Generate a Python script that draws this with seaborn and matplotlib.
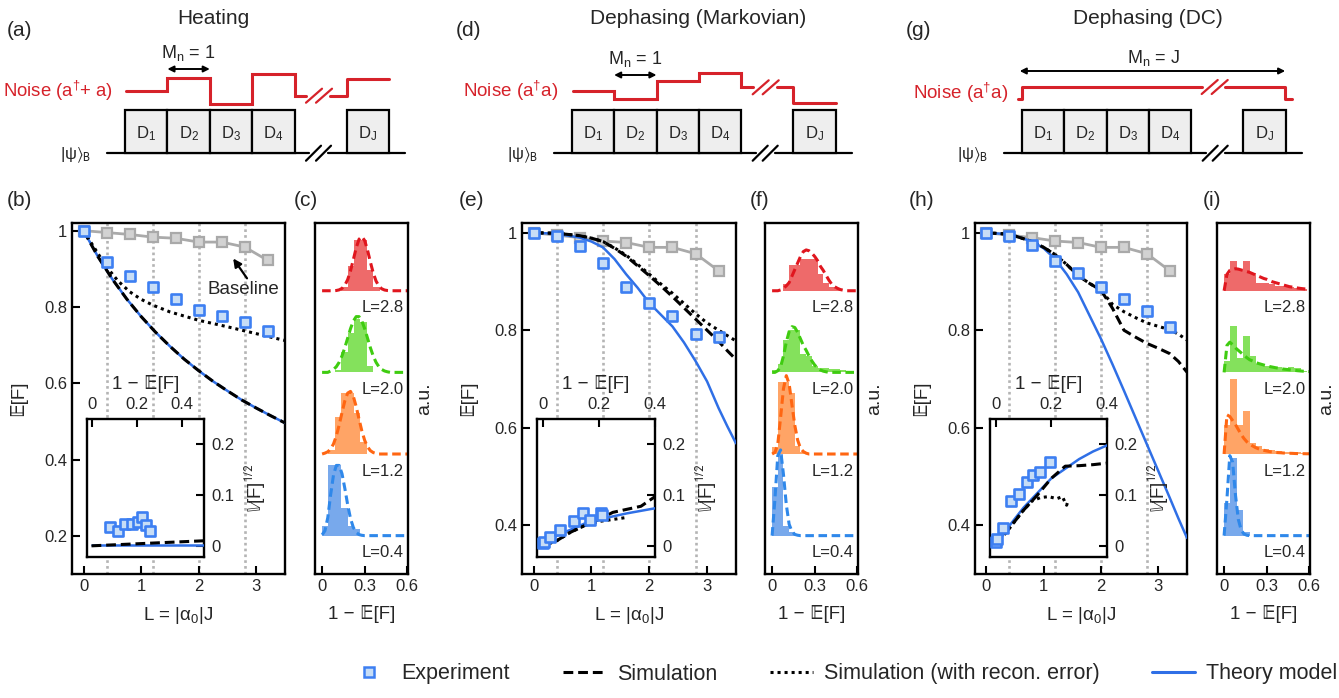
import matplotlib
matplotlib.use("Agg")
import matplotlib.pyplot as plt
import seaborn as sns
from matplotlib.lines import Line2D
from matplotlib.patches import Rectangle

# ------------------------------------------------------------------ data
L_exp = [0.0, 0.4, 0.8, 1.2, 1.6, 2.0, 2.4, 2.8, 3.2]
L_marks = [0.4, 1.2, 2.0, 2.8]
baseline_F = [1.0, 0.995, 0.99, 0.983, 0.98, 0.97, 0.97, 0.957, 0.922]

# (b) heating
heat_exp = [1.0, 0.918, 0.882, 0.852, 0.822, 0.792, 0.776, 0.760, 0.738]
heat_L = [0, 0.25, 0.5, 0.75, 1.0, 1.25, 1.5, 1.75, 2.0, 2.25, 2.5, 2.75, 3.0, 3.25, 3.5]
heat_sim = [1.0, 0.932, 0.873, 0.821, 0.775, 0.734, 0.697, 0.663, 0.633, 0.605, 0.580, 0.556, 0.535, 0.515, 0.496]
heat_theory = [1.0, 0.932, 0.873, 0.821, 0.775, 0.734, 0.697, 0.663, 0.633, 0.605, 0.580, 0.556, 0.535, 0.515, 0.496]
heat_rec_L = [0, 0.2, 0.4, 0.6, 0.8, 1.0, 1.2, 1.5, 2.0, 2.5, 3.0, 3.5]
heat_rec = [1.0, 0.952, 0.905, 0.868, 0.84, 0.82, 0.805, 0.787, 0.765, 0.748, 0.73, 0.712]
heat_in_exp_x = [0.082, 0.118, 0.148, 0.178, 0.208, 0.224, 0.240, 0.262]
heat_in_exp_y = [0.0375, 0.030, 0.043, 0.043, 0.047, 0.057, 0.041, 0.030]
heat_in_x = [0.0, 0.1, 0.2, 0.3, 0.4, 0.5]
heat_in_sim = [0.0, 0.002, 0.004, 0.006, 0.008, 0.010]
heat_in_theory = [0.001, 0.001, 0.001, 0.001, 0.001, 0.001]

# (e) dephasing Markovian
mark_exp = [1.0, 0.994, 0.973, 0.937, 0.889, 0.856, 0.830, 0.792, 0.787]
line_L = [0, 0.4, 0.8, 1.0, 1.2, 1.4, 1.6, 1.8, 2.0, 2.2, 2.4, 2.6, 2.8, 3.0, 3.2, 3.35, 3.5]
mark_theory = [1.0, 0.998, 0.99, 0.982, 0.97, 0.946, 0.915, 0.887, 0.856, 0.832, 0.808, 0.775, 0.737, 0.695, 0.64, 0.603, 0.568]
mark_sim = [1.0, 0.999, 0.994, 0.989, 0.982, 0.968, 0.952, 0.932, 0.912, 0.891, 0.869, 0.846, 0.823, 0.8, 0.777, 0.758, 0.74]
mark_rec = [1.0, 0.999, 0.994, 0.989, 0.982, 0.969, 0.954, 0.935, 0.915, 0.895, 0.876, 0.855, 0.834, 0.815, 0.8, 0.789, 0.778]
mark_in_exp_x = [0.0, 0.006, 0.027, 0.063, 0.111, 0.144, 0.170, 0.208, 0.213]
mark_in_exp_y = [0.006, 0.008, 0.018, 0.031, 0.049, 0.064, 0.051, 0.064, 0.061]
in_x = [0.0, 0.05, 0.1, 0.15, 0.2, 0.25, 0.3, 0.35, 0.4]
mark_in_theory = [0.005, 0.02, 0.032, 0.044, 0.052, 0.058, 0.064, 0.069, 0.074]
mark_in_sim = [0.0, 0.01, 0.027, 0.04, 0.052, 0.066, 0.072, 0.078, 0.097]
mark_in_rec_x = [0.0, 0.05, 0.1, 0.15, 0.2, 0.25, 0.3]
mark_in_rec = [0.0, 0.01, 0.027, 0.04, 0.048, 0.052, 0.056]

# (h) dephasing DC
dc_exp = [1.0, 0.994, 0.975, 0.943, 0.917, 0.888, 0.864, 0.840, 0.806]
dc_theory = [1.0, 0.997, 0.982, 0.968, 0.946, 0.915, 0.878, 0.83, 0.782, 0.73, 0.676, 0.621, 0.566, 0.511, 0.456, 0.414, 0.374]
dc_sim = [1.0, 0.997, 0.982, 0.97, 0.955, 0.935, 0.912, 0.896, 0.882, 0.845, 0.8, 0.786, 0.773, 0.763, 0.752, 0.736, 0.714]
dc_rec = [1.0, 0.997, 0.982, 0.97, 0.955, 0.935, 0.912, 0.896, 0.882, 0.853, 0.838, 0.826, 0.815, 0.808, 0.801, 0.792, 0.78]
dc_in_exp_x = [0.0, 0.006, 0.025, 0.057, 0.083, 0.112, 0.136, 0.160, 0.194]
dc_in_exp_y = [0.008, 0.0125, 0.036, 0.089, 0.102, 0.126, 0.139, 0.146, 0.166]
dc_in_theory = [0.0, 0.04, 0.075, 0.104, 0.133, 0.152, 0.171, 0.186, 0.198]
dc_in_sim = [0.0, 0.035, 0.07, 0.1, 0.133, 0.157, 0.158, 0.16, 0.163]
dc_in_rec_x = [0.0, 0.05, 0.1, 0.13, 0.16, 0.19, 0.22, 0.24, 0.25, 0.255, 0.26]
dc_in_rec = [0.0, 0.035, 0.07, 0.088, 0.095, 0.097, 0.093, 0.097, 0.085, 0.08, 0.088]

# ridge histograms (order: L=0.4, 1.2, 2.0, 2.8)
ridge_labels = ["L=0.4", "L=1.2", "L=2.0", "L=2.8"]
c_bw = 0.045
c_left = [[0.0, 0.045, 0.09, 0.135, 0.18, 0.225],
          [0.045, 0.09, 0.135, 0.18, 0.225, 0.27],
          [0.09, 0.135, 0.18, 0.225, 0.27, 0.315],
          [0.135, 0.18, 0.225, 0.27, 0.315, 0.36]]
c_h = [[0.12, 0.87, 0.87, 0.34, 0.12, 0.08],
       [0.05, 0.45, 0.75, 0.75, 0.50, 0.15],
       [0.03, 0.25, 0.48, 0.65, 0.62, 0.08],
       [0.05, 0.30, 0.62, 0.62, 0.26, 0.05]]
f_bw = 0.04
f_left = [[0.0, 0.04, 0.08, 0.12],
          [0.0, 0.04, 0.08, 0.12, 0.16, 0.20],
          [0.0, 0.04, 0.08, 0.12, 0.16, 0.20, 0.24, 0.28, 0.32, 0.36, 0.40, 0.44, 0.48],
          [0.08, 0.12, 0.16, 0.20, 0.24, 0.28, 0.32, 0.36, 0.40, 0.44]]
f_h = [[0.60, 1.15, 0.12, 0.04],
       [0.08, 0.88, 0.88, 0.75, 0.10, 0.03],
       [0.03, 0.10, 0.40, 0.52, 0.52, 0.22, 0.20, 0.08, 0.05, 0.05, 0.04, 0.04, 0.03],
       [0.08, 0.32, 0.32, 0.39, 0.39, 0.39, 0.20, 0.10, 0.05, 0.02]]
i_bw = 0.045
i_left = [[0.0, 0.045, 0.09, 0.135],
          [0.0, 0.045, 0.09, 0.135, 0.18, 0.225, 0.27, 0.315, 0.36, 0.405, 0.45, 0.495, 0.54],
          [0.0, 0.045, 0.09, 0.135, 0.18, 0.225, 0.27, 0.315, 0.36, 0.405, 0.45, 0.495, 0.54],
          [0.0, 0.045, 0.09, 0.135, 0.18, 0.225, 0.27, 0.315, 0.36, 0.405, 0.45, 0.495, 0.54]]
i_h = [[0.40, 0.95, 0.32, 0.05],
       [0.35, 0.92, 0.35, 0.53, 0.14, 0.10, 0.06, 0.05, 0.04, 0.03, 0.02, 0.02, 0.01],
       [0.14, 0.57, 0.18, 0.45, 0.20, 0.10, 0.08, 0.08, 0.06, 0.04, 0.06, 0.05, 0.02],
       [0.20, 0.36, 0.26, 0.36, 0.22, 0.10, 0.10, 0.08, 0.06, 0.06, 0.04, 0.03, 0.02]]

G = [0.0, 0.02, 0.04, 0.06, 0.08, 0.10, 0.12, 0.14, 0.16, 0.18, 0.20, 0.22, 0.24, 0.26, 0.28,
     0.30, 0.32, 0.34, 0.36, 0.38, 0.40, 0.42, 0.44, 0.46, 0.48, 0.50, 0.52, 0.54, 0.56, 0.58, 0.60]
c_fit = [[0.01, 0.06, 0.22, 0.50, 0.74, 0.86, 0.86, 0.76, 0.58, 0.38, 0.21, 0.10, 0.04, 0.013, 0.004, 0, 0, 0, 0, 0, 0, 0, 0, 0, 0, 0, 0, 0, 0, 0, 0],
         [0, 0.011, 0.027, 0.061, 0.122, 0.22, 0.353, 0.506, 0.65, 0.746, 0.767, 0.706, 0.581, 0.428, 0.282, 0.167, 0.088, 0.041, 0.018, 0.007, 0, 0, 0, 0, 0, 0, 0, 0, 0, 0, 0],
         [0, 0, 0, 0.017, 0.036, 0.069, 0.123, 0.201, 0.302, 0.419, 0.535, 0.629, 0.683, 0.683, 0.629, 0.535, 0.419, 0.302, 0.201, 0.123, 0.069, 0.036, 0.017, 0.007, 0, 0, 0, 0, 0, 0, 0],
         [0, 0, 0, 0, 0, 0.003, 0.011, 0.029, 0.067, 0.136, 0.243, 0.381, 0.524, 0.63, 0.664, 0.614, 0.497, 0.352, 0.219, 0.119, 0.057, 0.024, 0.009, 0.003, 0, 0, 0, 0, 0, 0, 0]]
f_fit = [[0.0, 0.45, 0.98, 1.05, 0.75, 0.38, 0.14, 0.05, 0.015, 0.005, 0, 0, 0, 0, 0, 0, 0, 0, 0, 0, 0, 0, 0, 0, 0, 0, 0, 0, 0, 0, 0],
         [0, 0.02, 0.12, 0.45, 0.80, 0.96, 0.86, 0.60, 0.35, 0.17, 0.07, 0.03, 0.01, 0, 0, 0, 0, 0, 0, 0, 0, 0, 0, 0, 0, 0, 0, 0, 0, 0, 0],
         [0, 0, 0.02, 0.07, 0.20, 0.37, 0.50, 0.56, 0.55, 0.49, 0.41, 0.33, 0.27, 0.20, 0.14, 0.09, 0.055, 0.03, 0.015, 0.007, 0, 0, 0, 0, 0, 0, 0, 0, 0, 0, 0],
         [0, 0, 0, 0.01, 0.03, 0.06, 0.10, 0.18, 0.26, 0.34, 0.42, 0.48, 0.50, 0.49, 0.46, 0.42, 0.37, 0.30, 0.25, 0.19, 0.13, 0.08, 0.05, 0.03, 0.015, 0.007, 0, 0, 0, 0, 0]]
i_fit = [[0.0, 0.45, 0.98, 0.90, 0.50, 0.20, 0.07, 0.02, 0.005, 0, 0, 0, 0, 0, 0, 0, 0, 0, 0, 0, 0, 0, 0, 0, 0, 0, 0, 0, 0, 0, 0],
         [0.0, 0.48, 0.46, 0.41, 0.36, 0.30, 0.24, 0.19, 0.15, 0.12, 0.10, 0.08, 0.065, 0.055, 0.045, 0.037, 0.03, 0.025, 0.02, 0.017, 0.015, 0.012, 0.01, 0.009, 0.008, 0.006, 0.005, 0.004, 0.004, 0.003, 0.003],
         [0.0, 0.33, 0.37, 0.34, 0.30, 0.27, 0.24, 0.21, 0.18, 0.155, 0.14, 0.125, 0.11, 0.10, 0.09, 0.08, 0.072, 0.065, 0.058, 0.052, 0.046, 0.04, 0.036, 0.032, 0.028, 0.024, 0.02, 0.017, 0.014, 0.012, 0.01],
         [0.0, 0.20, 0.25, 0.26, 0.27, 0.265, 0.255, 0.245, 0.235, 0.225, 0.21, 0.195, 0.18, 0.165, 0.15, 0.14, 0.125, 0.11, 0.10, 0.09, 0.08, 0.07, 0.06, 0.05, 0.045, 0.04, 0.033, 0.028, 0.024, 0.02, 0.018]]

# schematic content
sch_titles = ["Heating", "Dephasing (Markovian)", "Dephasing (DC)"]
sch_panel = ["(a)", "(d)", "(g)"]
sch_noise = [r"Noise (a$^{\dagger}$+ a)", r"Noise (a$^{\dagger}$a)", r"Noise (a$^{\dagger}$a)"]
sch_span = [r"M$_\mathrm{n}$ = 1", r"M$_\mathrm{n}$ = 1", r"M$_\mathrm{n}$ = J"]
box_names = [r"D$_1$", r"D$_2$", r"D$_3$", r"D$_4$", r"D$_\mathrm{J}$"]
# noise level (px upward) for blocks D1, D2, D3, D4, gap, DJ
heat_noise = [0, 13, -13.3, 16.7, -5, 11.4]
mark_noise = [0, -8.3, 9.7, 18, 3.4, -12]

legend_labels = ["Experiment", "Simulation", "Simulation (with recon. error)", "Theory model"]

# ------------------------------------------------------------------ style
sns.set_theme(style="ticks")
plt.rcParams["font.family"] = ["Liberation Sans", "DejaVu Sans"]
plt.rcParams["mathtext.fontset"] = "custom"
plt.rcParams["mathtext.rm"] = "Liberation Sans"
plt.rcParams["mathtext.it"] = "Liberation Sans:italic"
plt.rcParams["mathtext.bf"] = "Liberation Sans:bold"
plt.rcParams["axes.linewidth"] = 1.7
plt.rcParams["axes.edgecolor"] = "black"

W, H = 1339, 698
fig = plt.figure(figsize=(W / 100, H / 100), dpi=100)

BLUE = "#2f6fe6"
EXP_EDGE = "#3d7ff2"
EXP_FACE = "#c7ddf6"
GRAY_LINE = "#aaaaaa"
RED = "#d6222a"
TICK_FS = 12
LAB_FS = 13.5
DASH = (0, (3.2, 1.6))
DOT = (0, (1, 1.3))


def px_axes(x0, y0, x1, y1, **kw):
    return fig.add_axes([x0 / W, 1 - y1 / H, (x1 - x0) / W, (y1 - y0) / H], **kw)


def style_ticks(ax, **kw):
    ax.tick_params(direction="in", length=6, width=1.5, labelsize=TICK_FS, color="black", **kw)


def main_panel(ax, exp, Lline, theory, sim, rec_L, rec, ylim, yticks):
    for v in L_marks:
        ax.axvline(v, color="#b4b4b4", ls=(0, (1, 1.2)), lw=1.9, zorder=0)
    sns.lineplot(x=L_exp, y=baseline_F, ax=ax, color=GRAY_LINE, lw=2, marker="s", ms=7.5,
                 mfc="#d2d2d2", mec="#a9a9a9", mew=1.6, zorder=2)
    sns.lineplot(x=Lline, y=theory, ax=ax, color=BLUE, lw=1.8, zorder=3)
    sns.lineplot(x=Lline, y=sim, ax=ax, color="black", lw=2.2, ls=DASH, zorder=4)
    sns.lineplot(x=rec_L, y=rec, ax=ax, color="black", lw=2.2, ls=DOT, zorder=4)
    sns.scatterplot(x=L_exp, y=exp, ax=ax, marker="s", s=50, color=EXP_FACE,
                    edgecolor=EXP_EDGE, linewidth=1.9, zorder=6)
    ax.set_xlim(-0.2, 3.5)
    ax.set_ylim(*ylim)
    ax.set_xticks([0, 1, 2, 3])
    ax.set_yticks(yticks)
    ax.set_yticklabels(["1" if t == 1 else f"{t:g}" for t in yticks])
    style_ticks(ax)
    ax.set_xlabel(r"L = |α$_0$|J", fontsize=LAB_FS, labelpad=8)
    ax.set_ylabel("𝔼[F]", fontsize=LAB_FS, labelpad=12)


def inset_panel(ax, ex, ey, lx, lth, lsim, rx, rec, xlim):
    sns.lineplot(x=lx, y=lth, ax=ax, color=BLUE, lw=1.8, zorder=3)
    sns.lineplot(x=lx, y=lsim, ax=ax, color="black", lw=2.2, ls=DASH, zorder=4)
    if rx is not None:
        sns.lineplot(x=rx, y=rec, ax=ax, color="black", lw=2.2, ls=DOT, zorder=4)
    sns.scatterplot(x=ex, y=ey, ax=ax, marker="s", s=50, color=EXP_FACE,
                    edgecolor=EXP_EDGE, linewidth=1.9, zorder=6)
    ax.set_xlim(*xlim)
    ax.set_ylim(-0.022, 0.25)
    ax.set_xticks([0, 0.2, 0.4])
    ax.set_xticklabels(["0", "0.2", "0.4"])
    ax.set_yticks([0, 0.1, 0.2])
    ax.set_yticklabels(["0", "0.1", "0.2"])
    ax.xaxis.tick_top()
    ax.yaxis.tick_right()
    style_ticks(ax, pad=5)
    ax.xaxis.set_label_position("top")
    ax.yaxis.set_label_position("right")
    ax.set_xlabel("1 − 𝔼[F]", fontsize=LAB_FS, labelpad=6)
    ax.set_ylabel(r"$\mathbb{V}$[F]$^{1/2}$", fontsize=LAB_FS, labelpad=6,
                  math_fontfamily="stixsans")
    ax.set_facecolor("white")


RIDGE_FILL = ["#78a9ec", "#ffa466", "#84e15c", "#ee6a6a"]
RIDGE_LINE = ["#2f88ea", "#ff6612", "#3fcc10", "#e0161e"]


def ridge_panel(ax, bw, lefts, heights, fits):
    for k in range(4):
        ax.bar(lefts[k], heights[k], width=bw, bottom=k, align="edge", color=RIDGE_FILL[k],
               lw=0, zorder=1)
        sns.lineplot(x=G, y=[k + v for v in fits[k]], ax=ax, color=RIDGE_LINE[k], lw=2.2,
                     ls=(0, (2.8, 1.5)), zorder=2)
        ax.text(0.575, k - 0.21, ridge_labels[k], ha="right", va="center", fontsize=TICK_FS)
    ax.set_xlim(-0.05, 0.605)
    ax.set_ylim(-0.47, 3.83)
    ax.set_xticks([0, 0.3, 0.6])
    ax.set_xticklabels(["0", "0.3", "0.6"])
    ax.set_yticks([])
    style_ticks(ax)
    ax.set_xlabel("1 − 𝔼[F]", fontsize=LAB_FS, labelpad=8)
    ax.yaxis.set_label_position("right")
    ax.set_ylabel("a.u.", fontsize=LAB_FS + 0.5, labelpad=6)


# ------------------------------------------------------------------ schematic overlay
ov = fig.add_axes([0, 0, 1, 1], zorder=-5)
ov.set_xlim(0, W)
ov.set_ylim(H, 0)
ov.axis("off")

sch_x0 = [125, 571.7, 1021.7]
BW = 42.4
for s in range(3):
    x0 = sch_x0[s]
    yb_top, yb_bot = 110, 152.7
    ov.plot([x0 - 18, x0 + 184], [yb_bot, yb_bot], color="black", lw=1.6, zorder=1)
    ov.plot([x0 + 203, x0 + 280], [yb_bot, yb_bot], color="black", lw=1.6, zorder=1)
    for dx in (181, 191):
        ov.plot([x0 + dx, x0 + dx + 15], [yb_bot + 8, yb_bot - 7], color="black", lw=1.6)
    lefts = [x0, x0 + BW, x0 + 2 * BW, x0 + 3 * BW, x0 + 221.5]
    for b, xl in enumerate(lefts):
        ov.add_patch(Rectangle((xl, yb_top), BW, yb_bot - yb_top, facecolor="#eeeeee",
                               edgecolor="black", lw=1.6, zorder=2))
        ov.text(xl + BW / 2, 134, box_names[b], ha="center", va="center", fontsize=12, zorder=3)
    ov.text(x0 - 49, 155, r"|ψ$\rangle_\mathrm{B}$", ha="center", va="center", fontsize=12,
            math_fontfamily="stixsans")
    if s == 0:
        ov.text(3, 90.7, sch_noise[s], ha="left", va="center", fontsize=13.3, color=RED)
    else:
        ov.text(x0 - 13, 90.7 if s < 2 else 93, sch_noise[s], ha="right", va="center",
                fontsize=13.5, color=RED)
    ov.text(x0 + (88 if s == 0 else 126.5), 18, sch_titles[s], ha="center", va="center",
            fontsize=15)
    ov.text(x0 - 106 if s == 0 else x0 - 103, 30, sch_panel[s], ha="center", va="center",
            fontsize=15)
    if s < 2:
        lev = heat_noise if s == 0 else mark_noise
        yref = 90.7
        xs, ys = [x0 + 1], [yref - lev[0]]
        for b in range(1, 4):
            xs += [x0 + b * BW, x0 + b * BW]
            ys += [yref - lev[b - 1], yref - lev[b]]
        xs += [x0 + 4 * BW, x0 + 4 * BW, x0 + 181]
        ys += [yref - lev[3], yref - lev[4], yref - lev[4]]
        ov.plot(xs, ys, color=RED, lw=2.2, solid_joinstyle="miter")
        xs2 = [x0 + 205, x0 + 221.5, x0 + 221.5, x0 + 221.5 + BW]
        ys2 = [yref - lev[4], yref - lev[4], yref - lev[5], yref - lev[5]]
        ov.plot(xs2, ys2, color=RED, lw=2.2)
        yb = yref - lev[4]
        for dx in (181, 191):
            ov.plot([x0 + dx, x0 + dx + 16], [yb + 7, yb - 7], color=RED, lw=1.6)
        ay = 69 if s == 0 else 75
        ov.annotate("", xy=(x0 + BW, ay), xytext=(x0 + 2 * BW, ay),
                    arrowprops=dict(arrowstyle="<|-|>", color="black", lw=1.4,
                                    mutation_scale=9, shrinkA=0, shrinkB=0))
        ov.text(x0 + 1.5 * BW, ay - 16, sch_span[s], ha="center", va="center", fontsize=13)
    else:
        ov.plot([x0 - 4, x0, x0, x0 + 180], [99, 99, 87.3, 87.3], color=RED, lw=2.2)
        ov.plot([x0 + 203, x0 + 263.5, x0 + 263.5, x0 + 270], [87.3, 87.3, 99, 99], color=RED, lw=2.2)
        for dx in (180, 190):
            ov.plot([x0 + dx, x0 + dx + 16], [94, 80], color=RED, lw=1.6)
        ov.annotate("", xy=(x0 - 2, 71), xytext=(x0 + 263.5, 71),
                    arrowprops=dict(arrowstyle="<|-|>", color="black", lw=1.4,
                                    mutation_scale=9, shrinkA=0, shrinkB=0))
        ov.text(x0 + 131.5, 58, sch_span[s], ha="center", va="center", fontsize=13)

for lab, xx in zip(["(b)", "(c)", "(e)", "(f)", "(h)", "(i)"], [19, 306, 472, 760, 922, 1212]):
    ov.text(xx, 200, lab, ha="center", va="center", fontsize=15)

# ------------------------------------------------------------------ data axes
ax_b = px_axes(72, 223, 285, 574)
main_panel(ax_b, heat_exp, heat_L, heat_theory, heat_sim, heat_rec_L, heat_rec,
           (0.1, 1.02), [0.2, 0.4, 0.6, 0.8, 1])
ax_b.annotate("", xy=(2.6, 0.927), xytext=(2.84, 0.875),
              arrowprops=dict(arrowstyle="-|>", color="black", lw=1.6,
                              mutation_scale=12, shrinkA=0, shrinkB=0))
ax_b.text(2.78, 0.846, "Baseline", ha="center", va="center", fontsize=13.5)
ax_bi = px_axes(87, 419, 204, 557)
inset_panel(ax_bi, heat_in_exp_x, heat_in_exp_y, heat_in_x, heat_in_theory, heat_in_sim,
            None, None, (-0.02, 0.5))

ax_e = px_axes(522, 223, 736, 574)
main_panel(ax_e, mark_exp, line_L, mark_theory, mark_sim, line_L, mark_rec,
           (0.3, 1.02), [0.4, 0.6, 0.8, 1])
ax_ei = px_axes(537, 419, 655, 557)
inset_panel(ax_ei, mark_in_exp_x, mark_in_exp_y, in_x, mark_in_theory, mark_in_sim,
            mark_in_rec_x, mark_in_rec, (-0.02, 0.4))

ax_h = px_axes(975, 223, 1187, 574)
main_panel(ax_h, dc_exp, line_L, dc_theory, dc_sim, line_L, dc_rec,
           (0.3, 1.02), [0.4, 0.6, 0.8, 1])
ax_hi = px_axes(990, 419, 1107, 557)
inset_panel(ax_hi, dc_in_exp_x, dc_in_exp_y, in_x, dc_in_theory, dc_in_sim,
            dc_in_rec_x, dc_in_rec, (-0.02, 0.4))

ax_c = px_axes(315, 223, 408, 574)
ridge_panel(ax_c, c_bw, c_left, c_h, c_fit)
ax_f = px_axes(765, 223, 858, 574)
ridge_panel(ax_f, f_bw, f_left, f_h, f_fit)
ax_i = px_axes(1217, 223, 1310, 574)
ridge_panel(ax_i, i_bw, i_left, i_h, i_fit)

# ------------------------------------------------------------------ legend
handles = [
    Line2D([], [], ls="none", marker="s", ms=7.5, mfc=EXP_FACE, mec=EXP_EDGE, mew=1.8),
    Line2D([], [], color="black", lw=2.2, ls=DASH),
    Line2D([], [], color="black", lw=2.2, ls=DOT),
    Line2D([], [], color=BLUE, lw=2.2),
]
fig.legend(handles, legend_labels, loc="center", bbox_to_anchor=(842.5 / W, 1 - 674 / H),
           ncol=4, frameon=False, fontsize=15.5, handlelength=2.0, handletextpad=0.5,
           columnspacing=2.45, borderpad=0, borderaxespad=0)

fig.savefig("out.png", dpi=100)
